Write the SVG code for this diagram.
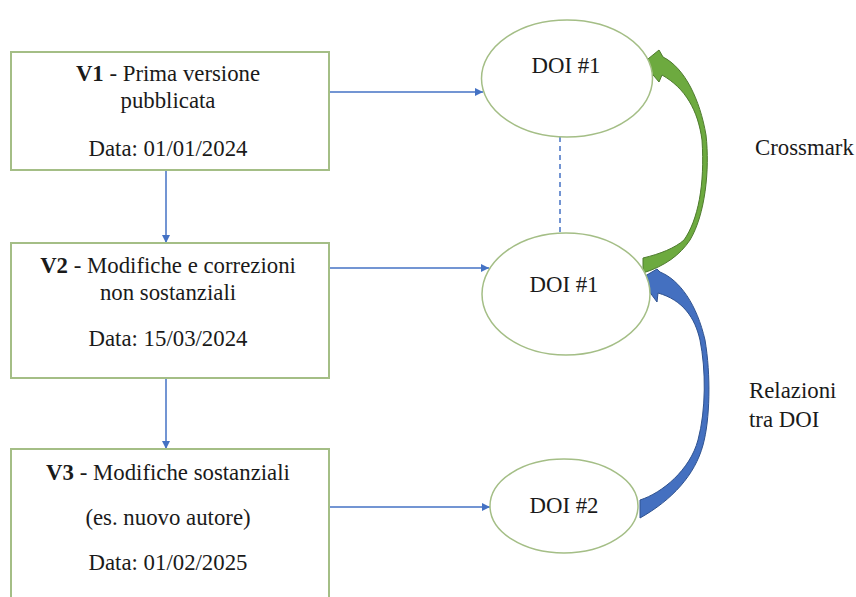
<svg xmlns="http://www.w3.org/2000/svg" width="856" height="597" viewBox="0 0 856 597">
<defs>
<style>
.box{fill:#fff;stroke:#A4BE86;stroke-width:2}
.ell{fill:#fff;stroke:#A4BE86;stroke-width:1.5}
text{font-family:'Liberation Serif','Times New Roman',serif;font-size:22.8px;fill:#1a1a1a}
.t{text-anchor:middle}
.con{stroke:#4472C4;stroke-width:1.5;fill:none}
.dash{stroke:#4472C4;stroke-width:1.5;fill:none;stroke-dasharray:5 4}
</style>
<marker id="ah" viewBox="0 0 10 10" refX="10" refY="5" markerWidth="8" markerHeight="8" markerUnits="userSpaceOnUse" orient="auto">
<path d="M0,0 L10,5 L0,10 Z" fill="#4472C4"/>
</marker>
</defs>
<rect width="856" height="597" fill="#fff"/>
<g id="connectors">
<line class="con" x1="329" y1="92" x2="483" y2="92" marker-end="url(#ah)"/>
<line class="con" x1="329" y1="268" x2="489" y2="268" marker-end="url(#ah)"/>
<line class="con" x1="329" y1="507" x2="490" y2="507" marker-end="url(#ah)"/>
<line class="con" x1="166" y1="170" x2="166" y2="243" marker-end="url(#ah)"/>
<line class="con" x1="166" y1="378" x2="166" y2="449" marker-end="url(#ah)"/>
<line class="dash" x1="560" y1="137" x2="560" y2="233"/>
<path id="crossmark-arrow" d="M643,63 L659,50 L663,57 C685,68 700,100 706,135 C710,170 705,215 690,240 C680,255 665,266 643,273 L643,258 C660,254 675,248 684,240 C698,220 705,185 702,140 C698,110 685,88 662,75 L659,82 Z" fill="#6DAA3F" stroke="#4E7A2E" stroke-width="1"/>
<path id="relazioni-arrow" d="M640,279 L657,269 L660,272 C680,280 697,305 705,340 C711,375 710,420 703,445 C695,475 672,500 640,518 L640,500 C662,493 690,470 698,440 C706,410 706,370 700,340 C695,318 683,300 658,293 L657,302 Z" fill="#4470C0" stroke="#2F528F" stroke-width="1"/>
</g>
<g id="v1">
<rect class="box" x="11" y="52" width="318" height="118"/>
<text class="t" x="168" y="81"><tspan font-weight="bold">V1</tspan> - Prima versione</text>
<text class="t" x="168" y="108">pubblicata</text>
<text class="t" x="168" y="156">Data: 01/01/2024</text>
</g>
<g id="v2">
<rect class="box" x="11" y="243" width="318" height="135"/>
<text class="t" x="168" y="273"><tspan font-weight="bold">V2</tspan> - Modifiche e correzioni</text>
<text class="t" x="168" y="300">non sostanziali</text>
<text class="t" x="168" y="346">Data: 15/03/2024</text>
</g>
<g id="v3">
<rect class="box" x="11" y="449" width="318" height="170"/>
<text class="t" x="168" y="480"><tspan font-weight="bold">V3</tspan> - Modifiche sostanziali</text>
<text class="t" x="168" y="525">(es. nuovo autore)</text>
<text class="t" x="168" y="570">Data: 01/02/2025</text>
</g>
<g id="doi1-top">
<ellipse class="ell" cx="567" cy="78.5" rx="85.5" ry="58.5"/>
<text class="t" x="566" y="73">DOI #1</text>
</g>
<g id="doi1-mid">
<ellipse class="ell" cx="566" cy="294" rx="84" ry="61"/>
<text class="t" x="564" y="292">DOI #1</text>
</g>
<g id="doi2">
<ellipse class="ell" cx="564" cy="506" rx="74" ry="47"/>
<text class="t" x="564" y="513">DOI #2</text>
</g>
<g id="label-crossmark">
<text x="755" y="155">Crossmark</text>
</g>
<g id="label-relazioni">
<text x="749" y="398">Relazioni</text>
<text x="749" y="427">tra DOI</text>
</g>
</svg>
